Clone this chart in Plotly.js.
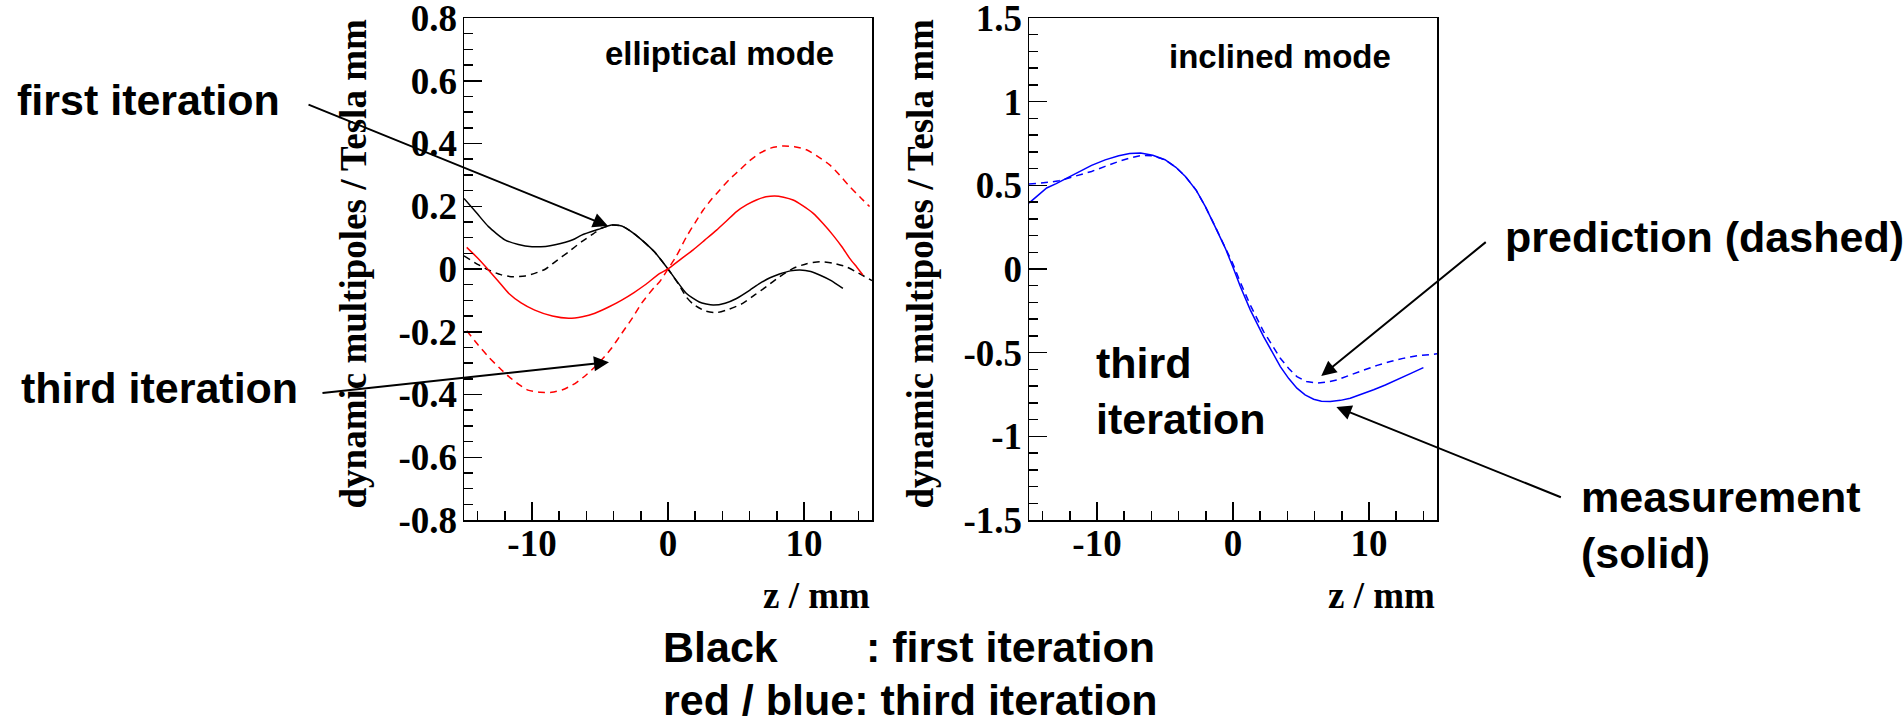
<!DOCTYPE html>
<html>
<head>
<meta charset="utf-8">
<script src="https://cdn.plot.ly/plotly-3.0.1.min.js"></script>
<style>
  html, body { margin: 0; padding: 0; background: #ffffff; }
  #chart { width: 1903px; height: 724px; }
</style>
</head>
<body>
<div id="chart"></div>
<script>
// ---- Elliptical mode: first iteration (black), third iteration (red) ----
const firstMeasZ = [-15, -14, -13.2, -12, -11, -10, -9, -8.3, -7, -6.35, -5, -4.14, -3.4, -2.5, -1.94, -1, 0, 1.36, 2.3, 3.32, 4.2, 5.04, 6, 6.75, 7.5, 8.2, 9, 9.7, 10.5, 11.15, 12, 12.86];
const firstMeasB = [0.225, 0.175, 0.135, 0.093, 0.078, 0.071, 0.072, 0.077, 0.093, 0.108, 0.128, 0.140, 0.137, 0.113, 0.093, 0.055, 0.0, -0.078, -0.105, -0.115, -0.109, -0.094, -0.068, -0.046, -0.028, -0.016, -0.006, -0.003, -0.008, -0.019, -0.037, -0.062];

const firstPredZ = [-15, -14, -13.2, -12.3, -11.4, -10.5, -9.8, -9, -8.3, -7.3, -6.35, -5.5, -4.9, -4.14, -3.4, -2.5, -1.94, -1, 0, 0.8, 1.36, 1.85, 2.7, 3.57, 4.5, 5.52, 6.4, 7.24, 8.2, 9.2, 10.2, 11.15, 12.1, 13.1, 14, 15];
const firstPredB = [0.042, 0.015, -0.003, -0.018, -0.025, -0.022, -0.014, 0.0, 0.023, 0.055, 0.087, 0.112, 0.130, 0.140, 0.137, 0.113, 0.093, 0.055, 0.0, -0.05, -0.09, -0.112, -0.133, -0.139, -0.128, -0.109, -0.082, -0.056, -0.025, 0.002, 0.017, 0.023, 0.019, 0.007, -0.013, -0.037];

const thirdMeasZ = [-14.8, -14, -13.2, -12.4, -11.7, -10.8, -9.8, -8.5, -7.3, -6.3, -5.37, -4.4, -3.4, -2.5, -1.7, -0.6, 0, 0.9, 1.85, 2.7, 3.57, 4.3, 5.04, 5.8, 6.5, 7.2, 7.85, 8.5, 9.2, 9.9, 10.66, 11.4, 12.13, 12.8, 13.36, 13.9, 14.33];
const thirdMeasB = [0.069, 0.035, -0.003, -0.043, -0.078, -0.108, -0.131, -0.150, -0.157, -0.152, -0.141, -0.122, -0.099, -0.075, -0.051, -0.014, 0.0, 0.03, 0.061, 0.092, 0.124, 0.153, 0.183, 0.205, 0.220, 0.230, 0.233, 0.229, 0.220, 0.202, 0.178, 0.145, 0.108, 0.070, 0.034, 0.005, -0.019];

const thirdPredZ = [-14.8, -14, -13.2, -12.4, -11.7, -11, -10.3, -9.4, -8.55, -7.7, -6.84, -6, -5.12, -4.2, -3.4, -2.6, -1.94, -1, -0.6, 0, 0.6, 1.36, 2.0, 2.59, 3.2, 3.81, 4.5, 5.28, 6, 6.75, 7.6, 8.46, 9.3, 10.18, 11, 11.89, 12.6, 13.36, 14.1, 14.82];
const thirdPredB = [-0.197, -0.24, -0.28, -0.315, -0.343, -0.367, -0.386, -0.393, -0.393, -0.384, -0.365, -0.337, -0.301, -0.255, -0.205, -0.155, -0.109, -0.058, -0.04, 0.0, 0.04, 0.103, 0.148, 0.188, 0.222, 0.252, 0.285, 0.316, 0.345, 0.369, 0.386, 0.392, 0.390, 0.380, 0.359, 0.332, 0.300, 0.263, 0.230, 0.199];

// ---- Inclined mode: third iteration (blue) ----
const inclMeasZ = [-15, -14.3, -13.7, -13, -12.3, -11.3, -10.4, -9.4, -8.4, -7.6, -6.8, -5.9, -5.0, -4.2, -3.5, -2.7, -2.04, -1.3, -0.57, 0, 0.54, 1.27, 2.25, 3.48, 4.1, 4.7, 5.3, 5.93, 6.5, 7.15, 7.9, 8.62, 9.5, 10.34, 11.2, 12.06, 13, 14.0];
const inclMeasB = [0.394, 0.44, 0.484, 0.510, 0.538, 0.580, 0.619, 0.652, 0.677, 0.690, 0.693, 0.680, 0.653, 0.608, 0.553, 0.470, 0.374, 0.250, 0.125, 0.01, -0.105, -0.244, -0.404, -0.583, -0.655, -0.712, -0.752, -0.778, -0.790, -0.792, -0.785, -0.772, -0.748, -0.722, -0.693, -0.663, -0.627, -0.589];

const inclPredZ = [-15, -14.5, -13.6, -12.8, -11.6, -10.4, -9.4, -8.4, -7.5, -6.7, -5.9, -5.0, -4.2, -3.5, -2.7, -2.04, -1.3, -0.57, 0, 0.54, 1.27, 2.25, 3.48, 4.1, 4.7, 5.4, 6.18, 6.9, 7.65, 8.6, 9.6, 10.6, 11.57, 12.5, 13.53, 14.3, 15];
const inclPredB = [0.508, 0.510, 0.518, 0.527, 0.553, 0.583, 0.613, 0.643, 0.665, 0.679, 0.676, 0.653, 0.608, 0.553, 0.470, 0.374, 0.252, 0.13, 0.03, -0.08, -0.215, -0.374, -0.533, -0.595, -0.643, -0.672, -0.682, -0.676, -0.663, -0.634, -0.603, -0.576, -0.553, -0.534, -0.519, -0.511, -0.507];

// ---- Tick labels ----
const zTickVals = [-10, 0, 10];
const zTickText = ['-10', '0', '10'];
const ellTickVals = [-0.8, -0.6, -0.4, -0.2, 0, 0.2, 0.4, 0.6, 0.8];
const ellTickText = ['-0.8', '-0.6', '-0.4', '-0.2', '0', '0.2', '0.4', '0.6', '0.8'];
const incTickVals = [-1.5, -1, -0.5, 0, 0.5, 1, 1.5];
const incTickText = ['-1.5', '-1', '-0.5', '0', '0.5', '1', '1.5'];

// ---- Page geometry helpers ----
const W = 1903, H = 724;
const px = v => v / W;
const py = v => 1 - v / H;

const DASH = '7px,5px';
const traces = [
  { x: firstMeasZ, y: firstMeasB, xaxis: 'x', yaxis: 'y', mode: 'lines',
    line: { color: '#000000', width: 1.5, shape: 'spline', smoothing: 0.6 } },
  { x: firstPredZ, y: firstPredB, xaxis: 'x', yaxis: 'y', mode: 'lines',
    line: { color: '#000000', width: 1.5, dash: DASH, shape: 'spline', smoothing: 0.6 } },
  { x: thirdMeasZ, y: thirdMeasB, xaxis: 'x', yaxis: 'y', mode: 'lines',
    line: { color: '#ff0000', width: 1.5, shape: 'spline', smoothing: 0.6 } },
  { x: thirdPredZ, y: thirdPredB, xaxis: 'x', yaxis: 'y', mode: 'lines',
    line: { color: '#ff0000', width: 1.5, dash: DASH, shape: 'spline', smoothing: 0.6 } },
  { x: inclMeasZ, y: inclMeasB, xaxis: 'x2', yaxis: 'y2', mode: 'lines',
    line: { color: '#0000ff', width: 1.5 } },
  { x: inclPredZ, y: inclPredB, xaxis: 'x2', yaxis: 'y2', mode: 'lines',
    line: { color: '#0000ff', width: 1.5, dash: DASH } }
];

const tickFont = { family: 'Liberation Serif, Times New Roman, serif', size: 37, color: '#000000', weight: 'bold' };

function axisBase(extra) {
  return Object.assign({
    showgrid: false, zeroline: false,
    showline: true, linecolor: '#000000', linewidth: 1.5, mirror: true,
    ticks: 'inside', ticklen: 18, tickwidth: 1.5, tickcolor: '#000000',
    tickmode: 'array', tickfont: tickFont, ticklabeloverflow: 'allow',
    fixedrange: true
  }, extra);
}

const xDomL = [px(464), px(872)];
const xDomR = [px(1029), px(1437)];
const yDom = [py(520), py(18)];

const layout = {
  width: W, height: H, autosize: false,
  margin: { l: 0, r: 0, t: 0, b: 0, pad: 0 },
  paper_bgcolor: '#ffffff', plot_bgcolor: '#ffffff',
  showlegend: false,
  xaxis: axisBase({ domain: xDomL, range: [-15, 15], anchor: 'y',
    tickvals: zTickVals, ticktext: zTickText, ticklabelstandoff: -10,
    minor: { tickmode: 'linear', tick0: 0, dtick: 2, ticks: 'inside', ticklen: 9, tickwidth: 1.5, tickcolor: '#000000' } }),
  yaxis: axisBase({ domain: yDom, range: [-0.8, 0.8], anchor: 'x',
    tickvals: ellTickVals, ticktext: ellTickText, ticklabelstandoff: -2,
    minor: { tickmode: 'linear', tick0: 0, dtick: 0.05, ticks: 'inside', ticklen: 9, tickwidth: 1.5, tickcolor: '#000000' } }),
  xaxis2: axisBase({ domain: xDomR, range: [-15, 15], anchor: 'y2',
    tickvals: zTickVals, ticktext: zTickText, ticklabelstandoff: -10,
    minor: { tickmode: 'linear', tick0: 0, dtick: 2, ticks: 'inside', ticklen: 9, tickwidth: 1.5, tickcolor: '#000000' } }),
  yaxis2: axisBase({ domain: yDom, range: [-1.5, 1.5], anchor: 'x2',
    tickvals: incTickVals, ticktext: incTickText, ticklabelstandoff: -2,
    minor: { tickmode: 'linear', tick0: 0, dtick: 0.1, ticks: 'inside', ticklen: 9, tickwidth: 1.5, tickcolor: '#000000' } }),
  annotations: []
};

const serifTitle = { family: 'Liberation Serif, Times New Roman, serif', size: 37, color: '#000000', weight: 'bold' };
const sansNote = { family: 'Liberation Sans, Arial, sans-serif', size: 43, color: '#000000', weight: 'bold' };
const sansPanel = { family: 'Liberation Sans, Arial, sans-serif', size: 33, color: '#000000', weight: 'bold' };

function note(text, x, y, font, xanchor, extra) {
  layout.annotations.push(Object.assign({
    text: text, xref: 'paper', yref: 'paper', x: px(x), y: py(y),
    xanchor: xanchor || 'left', yanchor: 'middle', showarrow: false,
    font: font, align: 'left'
  }, extra || {}));
}

// axis titles
note('z / mm', 872, 595, serifTitle, 'right');
note('z / mm', 1437, 595, serifTitle, 'right');
note('dynamic multipoles / Tesla mm', 353, 18, serifTitle, 'center', { textangle: -90, yanchor: 'top' });
note('dynamic multipoles / Tesla mm', 920, 18, serifTitle, 'center', { textangle: -90, yanchor: 'top' });

// panel labels
note('elliptical mode', 719, 54, sansPanel, 'center');
note('inclined mode', 1280, 57, sansPanel, 'center');

// side notes
note('first iteration', 15, 100, sansNote, 'left');
note('third iteration', 19, 388, sansNote, 'left');
note('prediction (dashed)', 1503, 237, sansNote, 'left');
note('measurement<br>(solid)', 1579, 525, sansNote, 'left');
note('third<br>iteration', 1094, 391, sansNote, 'left');
note('Black', 661, 647, sansNote, 'left');
note(': first iteration', 864, 647, sansNote, 'left');
note('red / blue: third iteration', 661, 700, sansNote, 'left');

// arrows pointing at the curves
function arrow(xref, yref, x, y, ax, ay) {
  layout.annotations.push({
    xref: xref, yref: yref, x: x, y: y, ax: ax, ay: ay,
    text: '', showarrow: true, arrowhead: 2, arrowsize: 1.5, arrowwidth: 2,
    arrowcolor: '#000000', standoff: 0, startstandoff: 0
  });
}
arrow('x', 'y', -4.41, 0.137, -301, -122);
arrow('x', 'y', -4.34, -0.297, -288, 31);
arrow('x2', 'y2', 6.49, -0.639, 166, -135);
arrow('x2', 'y2', 7.6, -0.824, 226, 91);

Plotly.newPlot('chart', traces, layout, { displayModeBar: false, staticPlot: true });
</script>
</body>
</html>
